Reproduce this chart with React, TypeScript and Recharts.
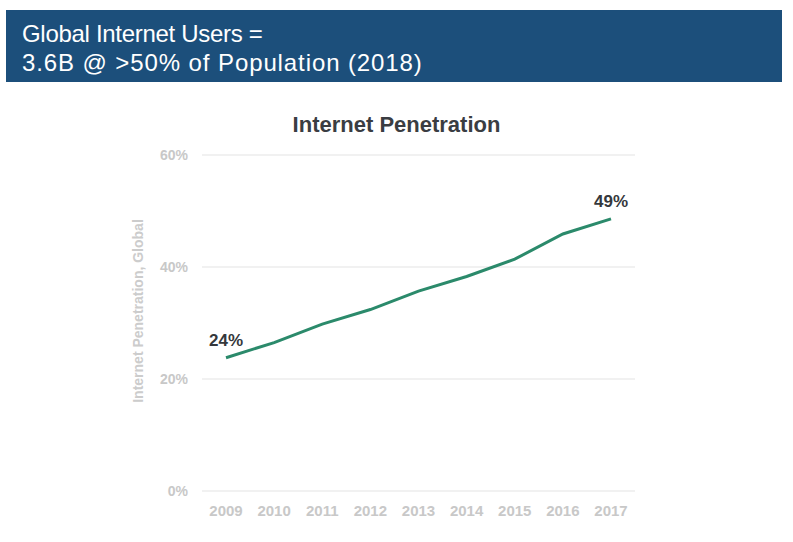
import React from "react";
import {
  LineChart,
  Line,
  XAxis,
  YAxis,
  CartesianGrid,
  LabelList,
  Label,
} from "recharts";

const years = ["2009", "2010", "2011", "2012", "2013", "2014", "2015", "2016", "2017"];
const penetration = [23.8, 26.5, 29.8, 32.4, 35.7, 38.3, 41.4, 45.9, 48.6];
const yTicks = [0, 20, 40, 60];

const headerLines = ["Global Internet Users =", "3.6B @ >50% of Population (2018)"];
const chartTitle = "Internet Penetration";
const yAxisTitle = "Internet Penetration, Global";

const data = years.map((year, i) => ({ year, value: penetration[i] }));

const FONT = "'Liberation Sans', Arial, Helvetica, sans-serif";

function EndLabel(props: any) {
  const { x, y, value, index } = props;
  if (index !== 0 && index !== data.length - 1) return null;
  return (
    <text
      x={x}
      y={y - 17}
      textAnchor="middle"
      dominantBaseline="central"
      fill="#35383c"
      fontSize={17}
      fontWeight="bold"
      fontFamily={FONT}
    >
      {Math.round(value)}%
    </text>
  );
}

function YTitle(props: any) {
  const { viewBox } = props;
  const cx = viewBox.x - 4;
  const cy = viewBox.y + viewBox.height / 2 - 12;
  return (
    <text
      x={cx}
      y={cy}
      transform={`rotate(-90, ${cx}, ${cy})`}
      textAnchor="middle"
      dominantBaseline="central"
      fill="#cccccc"
      fontSize={14}
      fontWeight="bold"
      fontFamily={FONT}
    >
      {yAxisTitle}
    </text>
  );
}

export default function App() {
  return (
    <div
      style={{
        position: "absolute",
        left: 0,
        top: 0,
        width: 793,
        height: 542,
        background: "#ffffff",
        fontFamily: FONT,
      }}
    >
      <div
        style={{
          position: "absolute",
          left: 6,
          top: 10,
          width: 776,
          height: 72,
          background: "#1c4f7b",
          color: "#ffffff",
          fontSize: 24,
          lineHeight: "28.5px",
          paddingTop: 10,
          paddingLeft: 16,
          boxSizing: "border-box",
        }}
      >
        <div style={{ letterSpacing: -0.3 }}>{headerLines[0]}</div>
        <div style={{ letterSpacing: 0.9 }}>{headerLines[1]}</div>
      </div>
      <div
        style={{
          position: "absolute",
          left: 0,
          top: 112,
          width: 793,
          textAlign: "center",
          fontSize: 22,
          fontWeight: "bold",
          color: "#3a3d42",
        }}
      >
        {chartTitle}
      </div>
      <div style={{ position: "absolute", left: 0, top: 0 }}>
        <LineChart
          width={793}
          height={542}
          data={data}
          margin={{ top: 155, right: 158, bottom: 21, left: 142 }}
        >
          <CartesianGrid vertical={false} stroke="#e3e3e3" />
          <XAxis
            dataKey="year"
            axisLine={false}
            tickLine={false}
            padding={{ left: 24, right: 24 }}
            tickMargin={8}
            height={30}
            tick={{ fill: "#c8c8c8", fontSize: 15, fontWeight: "bold", fontFamily: FONT }}
          />
          <YAxis
            domain={[0, 60]}
            ticks={yTicks}
            width={60}
            axisLine={false}
            tickLine={false}
            tickMargin={8}
            tickFormatter={(v: number) => `${v}%`}
            tick={{ fill: "#c8c8c8", fontSize: 14, fontWeight: "bold", fontFamily: FONT }}
          >
            <Label content={<YTitle />} />
          </YAxis>
          <Line
            type="linear"
            dataKey="value"
            stroke="#2b8a6b"
            strokeWidth={3}
            dot={false}
            isAnimationActive={false}
          >
            <LabelList dataKey="value" content={<EndLabel />} />
          </Line>
        </LineChart>
      </div>
    </div>
  );
}
